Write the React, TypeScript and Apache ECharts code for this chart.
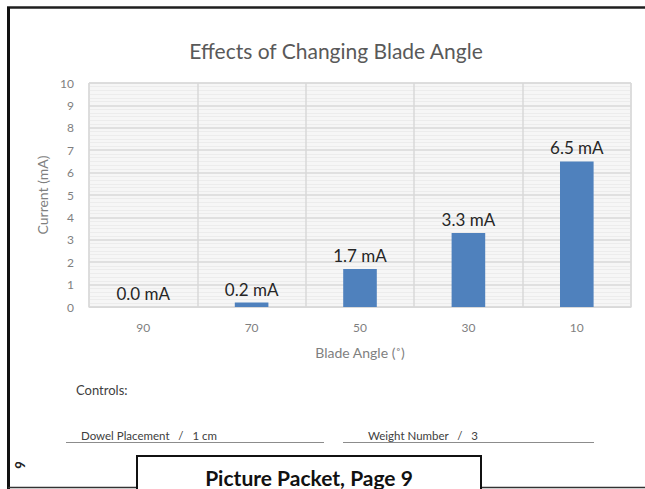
import React, { useEffect, useRef } from "react";
import * as echarts from "echarts";

const categories = ["90", "70", "50", "30", "10"];
const currentValues = [0.0, 0.2, 1.7, 3.3, 6.5];
const yTicks = { min: 0, max: 10, interval: 1 };
const titleText = "Effects of Changing Blade Angle";
const yAxisName = "Current (mA)";
const xAxisName = "Blade Angle (˚)";
const controlsLabel = "Controls:";
const controlItems = ["Dowel Placement   /   1 cm", "Weight Number   /   3"];
const footerText = "Picture Packet, Page 9";
const sideNumber = "9";

const FONT = "Lato, 'Open Sans', 'Noto Sans', sans-serif";

export default function App() {
  const ref = useRef<HTMLDivElement>(null);

  useEffect(() => {
    if (!ref.current) return;
    const chart = echarts.init(ref.current, null, { renderer: "svg" });
    const option: any = {
      animation: false,
      backgroundColor: "#ffffff",
      textStyle: { fontFamily: FONT },
      title: {
        text: titleText,
        left: 331,
        top: 35,
        textAlign: "center",
        textStyle: { fontSize: 21, fontWeight: "normal", color: "#595959", fontFamily: FONT },
      },
      grid: {
        left: 89,
        right: 14,
        top: 83,
        bottom: 182,
        show: true,
        backgroundColor: "#f6f6f6",
        borderColor: "#d9d9d9",
        borderWidth: 1,
        containLabel: false,
      },
      xAxis: {
        type: "category",
        data: categories,
        boundaryGap: true,
        name: xAxisName,
        nameLocation: "middle",
        nameGap: 38,
        nameTextStyle: { fontSize: 14, color: "#7f7f7f", fontFamily: FONT },
        axisLine: { show: true, lineStyle: { color: "#d9d9d9", width: 1 } },
        axisTick: { show: false },
        axisLabel: { color: "#7f7f7f", fontSize: 12, margin: 14, fontFamily: FONT },
        splitLine: { show: true, lineStyle: { color: "#d9d9d9", width: 1.5 } },
      },
      yAxis: {
        type: "value",
        min: yTicks.min,
        max: yTicks.max,
        interval: yTicks.interval,
        name: yAxisName,
        nameLocation: "middle",
        nameGap: 38,
        nameTextStyle: { fontSize: 14, color: "#7f7f7f", fontFamily: FONT },
        axisLine: { show: false },
        axisTick: { show: false },
        axisLabel: { color: "#7f7f7f", fontSize: 12, margin: 15, fontFamily: FONT },
        splitLine: { show: true, lineStyle: { color: "#d9d9d9", width: 1.5 } },
        minorTick: { show: false, splitNumber: 6 },
        minorSplitLine: { show: true, lineStyle: { color: "#ececec", width: 1 } },
      },
      series: [
        {
          type: "bar",
          data: currentValues,
          barWidth: "31%",
          itemStyle: { color: "#4f81bd" },
          label: {
            show: true,
            position: "top",
            distance: 5,
            formatter: (p: any) => `${Number(p.value).toFixed(1)} mA`,
            fontSize: 17,
            color: "#262626",
            fontFamily: FONT,
          },
        },
      ],
      graphic: [
        { type: "line", shape: { x1: 7, y1: 7.5, x2: 645, y2: 7.5 }, style: { stroke: "#1f1f1f", lineWidth: 2.5 } },
        { type: "line", shape: { x1: 8.5, y1: 7, x2: 8.5, y2: 489 }, style: { stroke: "#111111", lineWidth: 3 } },
        { type: "line", shape: { x1: 8, y1: 487.5, x2: 137, y2: 487.5 }, style: { stroke: "#333333", lineWidth: 1.5 } },
        { type: "line", shape: { x1: 481, y1: 487.5, x2: 645, y2: 487.5 }, style: { stroke: "#333333", lineWidth: 1.5 } },
        {
          type: "polyline",
          shape: { points: [[137, 490], [137, 456], [481, 456], [481, 490]] },
          style: { stroke: "#111111", lineWidth: 2, fill: "none" },
        },
        {
          type: "text",
          x: 309,
          y: 488,
          style: {
            text: footerText,
            font: `bold 21px ${FONT}`,
            fill: "#111111",
            textAlign: "center",
            textVerticalAlign: "bottom",
          },
        },
        {
          type: "text",
          x: 20,
          y: 465,
          rotation: Math.PI / 2,
          style: {
            text: sideNumber,
            font: `bold 13px ${FONT}`,
            fill: "#222222",
            textAlign: "center",
            textVerticalAlign: "middle",
          },
        },
        {
          type: "text",
          x: 76,
          y: 390,
          style: { text: controlsLabel, font: `13px ${FONT}`, fill: "#404040", textVerticalAlign: "middle" },
        },
        {
          type: "text",
          x: 81,
          y: 435,
          style: { text: controlItems[0], font: `11.5px ${FONT}`, fill: "#404040", textVerticalAlign: "middle" },
        },
        {
          type: "text",
          x: 368,
          y: 435,
          style: { text: controlItems[1], font: `11.5px ${FONT}`, fill: "#404040", textVerticalAlign: "middle" },
        },
        { type: "line", shape: { x1: 66, y1: 442.5, x2: 324, y2: 442.5 }, style: { stroke: "#8c8c8c", lineWidth: 1 } },
        { type: "line", shape: { x1: 343, y1: 442.5, x2: 594, y2: 442.5 }, style: { stroke: "#8c8c8c", lineWidth: 1 } },
      ],
    };
    chart.setOption(option);
    return () => chart.dispose();
  }, []);

  return (
    <div
      ref={ref}
      style={{ position: "absolute", left: 0, top: 0, width: 645, height: 489 }}
    />
  );
}
